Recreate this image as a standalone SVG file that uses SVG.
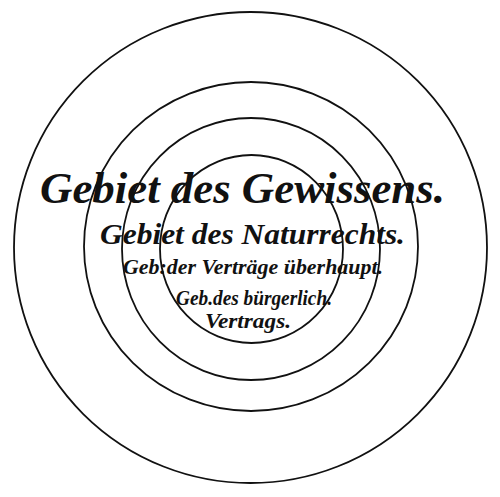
<svg xmlns="http://www.w3.org/2000/svg" width="500" height="497" viewBox="0 0 500 497">
<style>
.ring{fill:none;stroke:#111;stroke-width:1.8}
.t{font-family:"Liberation Serif","DejaVu Serif",serif;font-style:italic;font-weight:bold;fill:#111}
</style>
<rect width="500" height="497" fill="#fff"/>
<g id="rings">
<ellipse id="ring1" class="ring" cx="250.5" cy="247.5" rx="236.5" ry="235.5"/>
<ellipse id="ring2" class="ring" cx="251" cy="246.5" rx="167" ry="164.5"/>
<ellipse id="ring3" class="ring" cx="251" cy="249" rx="129" ry="131"/>
<ellipse id="ring4" class="ring" cx="251.5" cy="249" rx="91.5" ry="94"/>
</g>
<g id="labels">
<text id="l1" class="t" x="40" y="203" font-size="44" textLength="405" lengthAdjust="spacingAndGlyphs">Gebiet des Gewissens.</text>
<text id="l2" class="t" x="100" y="244" font-size="30" textLength="305" lengthAdjust="spacingAndGlyphs">Gebiet des Naturrechts.</text>
<text id="l3" class="t" x="123" y="274" font-size="22" textLength="260" lengthAdjust="spacingAndGlyphs">Geb:der Verträge überhaupt.</text>
<text id="l4" class="t" x="176" y="305" font-size="20" textLength="156" lengthAdjust="spacingAndGlyphs">Geb.des bürgerlich.</text>
<text id="l5" class="t" x="205" y="328" font-size="20" textLength="86" lengthAdjust="spacingAndGlyphs">Vertrags.</text>
</g>
</svg>
